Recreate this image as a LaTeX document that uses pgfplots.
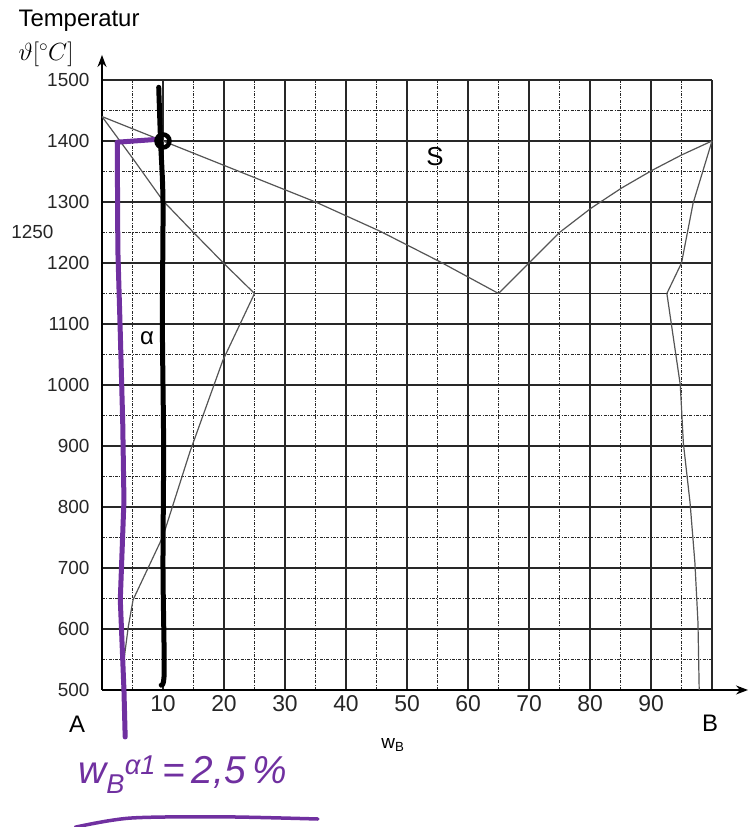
\documentclass[border=0pt]{standalone}
\usepackage{pgfplots}
\pgfplotsset{compat=1.18}
\usetikzlibrary{arrows.meta}
\usepackage{fontspec}
\setmainfont{Liberation Sans}
\definecolor{phase}{RGB}{85,85,85}
\definecolor{gridc}{RGB}{40,40,40}
\definecolor{hand}{RGB}{112,48,160}
\begin{document}
\begin{tikzpicture}
\begin{axis}[
  scale only axis, width=610bp, height=610bp,
  xmin=0, xmax=100, ymin=500, ymax=1500,
  axis x line=bottom, axis y line=left,
  x axis line style={-{Stealth[length=12bp,width=9bp]}, shorten >=-36bp, line width=1.4bp},
  y axis line style={-{Stealth[length=12bp,width=9bp]}, shorten >=-25bp, line width=1.4bp},
  xtick={0,10,...,100}, xticklabels={,10,20,30,40,50,60,70,80,90,},
  minor xtick={5,15,...,95},
  ytick={500,600,...,1500},
  minor ytick={550,650,...,1450},
  grid=both,
  major grid style={gridc, line width=1.7bp},
  minor grid style={gridc, line width=1.1bp, dash pattern=on 3bp off 1.3bp on 1bp off 1.3bp},
  tick style={draw=none},
  scaled ticks=false,
  /pgf/number format/assume math mode=true,
  /pgf/number format/1000 sep={},
  xticklabel style={font=\fontsize{23}{24}\selectfont, text=black!85},
  yticklabel style={font=\fontsize{19}{20}\selectfont, xshift=-7bp, text=black!85},
  clip=false,
]
% eutectic isotherm
\addplot[gridc, line width=1.7bp] coordinates {(25,1150) (92.6,1150)};
% left liquidus
\addplot[phase, line width=1.2bp] coordinates {(0,1440) (20,1360) (35,1300) (45.6,1252) (55.4,1202) (65,1150)};
% right liquidus
\addplot[phase, line width=1.2bp] coordinates {(65,1150) (70,1200) (75,1250) (80.2,1290) (85.2,1323) (90.2,1352) (95,1377) (100,1400)};
% left solidus
\addplot[phase, line width=1.2bp] coordinates {(0,1440) (5,1372) (10,1302) (15,1250) (20,1199) (25,1150)};
% left solvus
\addplot[phase, line width=1.2bp] coordinates {(25,1150) (19.8,1040) (14.4,890) (10,752) (5.1,648) (4.3,603) (3.6,549) (3.3,500)};
% right solidus
\addplot[phase, line width=1.2bp] coordinates {(92.6,1150) (95,1200) (96.9,1298) (100,1400)};
% right solvus
\addplot[phase, line width=1.2bp] coordinates {(92.6,1150) (94.8,1000) (95.3,905) (96.4,807) (97.2,708) (97.7,610) (97.9,500)};
% handwritten purple line
\addplot[hand, line width=5bp, line join=round, line cap=round] coordinates {(3.8,423) (3.6,500) (3.0,648) (3.6,811) (3.4,938) (3.0,1085) (2.6,1221) (2.5,1398) (9.5,1403)};
% handwritten black line
\addplot[black, line width=5bp, line join=round, line cap=round, smooth] coordinates {(9.3,1488) (9.6,1400) (10.0,1300) (9.9,1100) (10.1,900) (10.0,700) (10.2,530) (9.7,508)};
\addplot[only marks, mark=o, mark size=6.5bp, mark options={line width=4.5bp, black}] coordinates {(10,1400)};
% underline
\addplot[hand, line width=3.5bp, line cap=round, smooth] coordinates {(-4.4,275) (4.6,290) (20,292) (35.4,288.5)};
% texts
\node[font=\fontsize{24}{26}\selectfont, inner sep=0pt] at (axis cs:-3.77,1596.7) {Temperatur};
\node[font=\fontsize{27}{29}\selectfont, inner sep=0pt] at (axis cs:-9.18,1542) {$\vartheta[{}^\circ C]$};
\node[font=\fontsize{19}{20}\selectfont, anchor=east, text=black!85] at (axis cs:0,1250) [xshift=-45bp] {1250};
\node[font=\fontsize{24}{26}\selectfont] at (axis cs:-4.1,444.3) {A};
\node[font=\fontsize{24}{26}\selectfont] at (axis cs:99.67,445.9) {B};
\node[font=\fontsize{19}{20}\selectfont] at (axis cs:47.7,409.8) {w\textsubscript{B}};
\node[font=\fontsize{26}{28}\selectfont] at (axis cs:54.6,1373.8) {S};
\node[font=\fontsize{24}{26}\selectfont] at (axis cs:7.38,1077) {α};
\node[font=\fontsize{39}{41}\selectfont\itshape, text=hand] at (axis cs:13.2,360.7) {w\textsubscript{B}\textsuperscript{α1}\,=\,2,5\,\%};
\coordinate (bbsw) at (axis cs:-16.72,275.4);
\coordinate (bbne) at (axis cs:106.07,1631.1);
\end{axis}
\pgfresetboundingbox
\path[use as bounding box] (bbsw) rectangle (bbne);
\end{tikzpicture}
\end{document}
